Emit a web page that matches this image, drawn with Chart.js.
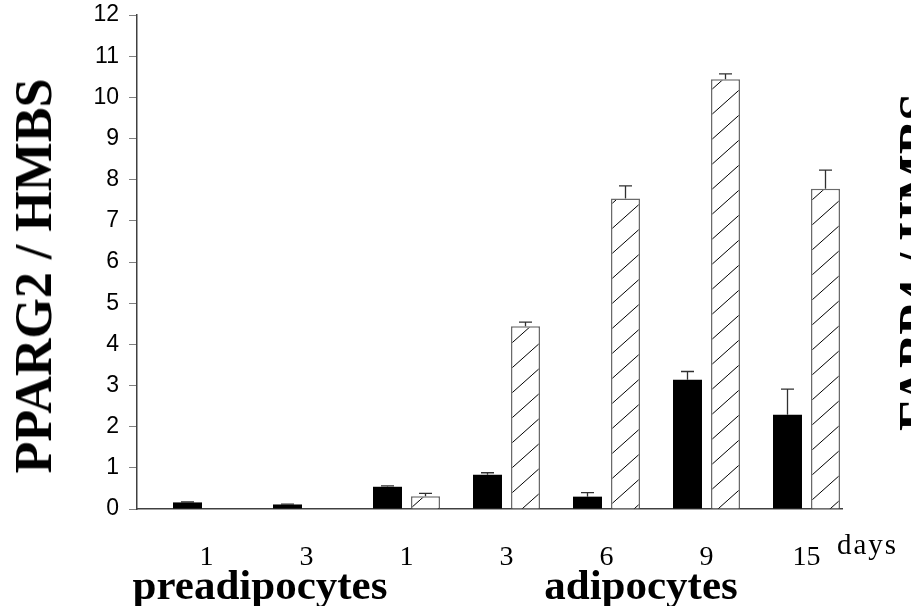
<!DOCTYPE html>
<html><head><meta charset="utf-8">
<script src="https://cdn.jsdelivr.net/npm/chart.js@4.4.1/dist/chart.umd.min.js"></script>
<style>
html,body{margin:0;padding:0;background:#fff;}
#wrap{position:relative;width:911px;height:606px;overflow:hidden;background:#fff;}
canvas{position:absolute;left:0;top:0;}
.t{position:absolute;white-space:nowrap;color:#000;font-family:"Liberation Serif","Times New Roman",serif;line-height:1;}
.rot{font-weight:bold;transform:translate(-50%,-50%) rotate(-90deg);}
.grp{font-weight:bold;font-size:43px;transform:translateX(-50%);}
</style></head>
<body><div id="wrap"><canvas id="c" width="911" height="606"></canvas>
<div class="t rot" style="left:34px;top:276px;font-size:52px;">PPARG2 / HMBS</div>
<div class="t rot" style="left:916px;top:262px;font-size:50px;">FABP4 / HMBS</div>
<div class="t grp" style="left:260px;top:563px;">preadipocytes</div>
<div class="t grp" style="left:641px;top:563px;">adipocytes</div>
<div class="t" style="left:837px;top:530px;font-size:29px;letter-spacing:2px;">days</div>
</div>
<script>
const dayLabels = ["1", "3", "1", "3", "6", "9", "15"];
const positions = [1, 2, 3, 4, 5, 6, 7];
const blackValues = [0.16, 0.11, 0.54, 0.83, 0.30, 3.14, 2.29];
const blackErrors = [0.01, 0.01, 0.02, 0.05, 0.10, 0.20, 0.62];
const hatchValues = [null, null, 0.31, 4.44, 7.54, 10.44, 7.78];
const hatchErrors = [0, 0, 0.07, 0.10, 0.31, 0.13, 0.45];
const yTicks = [0,1,2,3,4,5,6,7,8,9,10,11,12];

function makeHatch() {
  const w = 28, h = 25;
  const c = document.createElement('canvas');
  c.width = w; c.height = h;
  const g = c.getContext('2d');
  g.fillStyle = '#fff'; g.fillRect(0,0,w,h);
  g.strokeStyle = '#000'; g.lineWidth = 1;
  for (const dx of [-w, 0, w]) {
    g.beginPath(); g.moveTo(dx, h); g.lineTo(dx + w, 0); g.stroke();
  }
  return g.createPattern(c, 'repeat');
}

const errorSets = [blackErrors, hatchErrors];
const errorBars = {
  id: 'errorBars',
  afterDatasetsDraw(chart) {
    const ctx = chart.ctx, ys = chart.scales.y;
    ctx.save();
    ctx.strokeStyle = '#303030';
    ctx.lineWidth = 1.3;
    chart.data.datasets.forEach((ds, i) => {
      const meta = chart.getDatasetMeta(i);
      meta.data.forEach((el, j) => {
        const v = ds.data[j].y;
        const e = errorSets[i][j];
        if (v === null || !e) return;
        const yt = ys.getPixelForValue(v + e);
        ctx.beginPath();
        ctx.moveTo(el.x, el.y); ctx.lineTo(el.x, yt);
        ctx.moveTo(el.x - 6.5, yt); ctx.lineTo(el.x + 6.5, yt);
        ctx.stroke();
      });
    });
    ctx.restore();
  }
};

new Chart(document.getElementById('c'), {
  type: 'bar',
  data: {
    datasets: [
      { data: positions.map((p, i) => ({x: p, y: blackValues[i]})),
        backgroundColor: '#000', borderColor: '#000', borderWidth: 0 },
      { data: positions.map((p, i) => ({x: p, y: hatchValues[i]})),
        backgroundColor: makeHatch(), borderColor: '#6a6a6a', borderWidth: 1.5 }
    ]
  },
  options: {
    responsive: false, animation: false, devicePixelRatio: 1,
    categoryPercentage: 0.76, barPercentage: 0.763,
    layout: { padding: { top: 15, right: 69, left: 0, bottom: 0 } },
    plugins: { legend: { display: false }, tooltip: { enabled: false } },
    scales: {
      x: {
        type: 'linear', min: 0.305, max: 7.355, offset: false,
        grid: { display: false },
        border: { display: true, color: '#404040', width: 1.5 },
        afterBuildTicks: (s) => { s.ticks = positions.map(v => ({value: v})); },
        afterFit: (s) => { s.height = 97; s.paddingLeft = 0; s.paddingRight = 0; },
        ticks: {
          autoSkip: false, maxRotation: 0, padding: 24, color: '#000',
          font: { family: '"Liberation Serif", "Times New Roman", serif', size: 28 },
          callback: (v, i) => dayLabels[i]
        }
      },
      y: {
        min: 0, max: 12,
        afterBuildTicks: (s) => { s.ticks = yTicks.map(v => ({value: v})); },
        afterFit: (s) => { s.width = 137; s.paddingTop = 0; s.paddingBottom = 0; },
        grid: { drawOnChartArea: false, drawTicks: true, tickLength: 8, color: '#808080' },
        border: { display: true, color: '#404040', width: 1.5 },
        ticks: {
          padding: 10, color: '#000',
          font: { family: '"Liberation Sans", Arial, sans-serif', size: 23 }
        }
      }
    }
  },
  plugins: [errorBars]
});
</script>
</body></html>
